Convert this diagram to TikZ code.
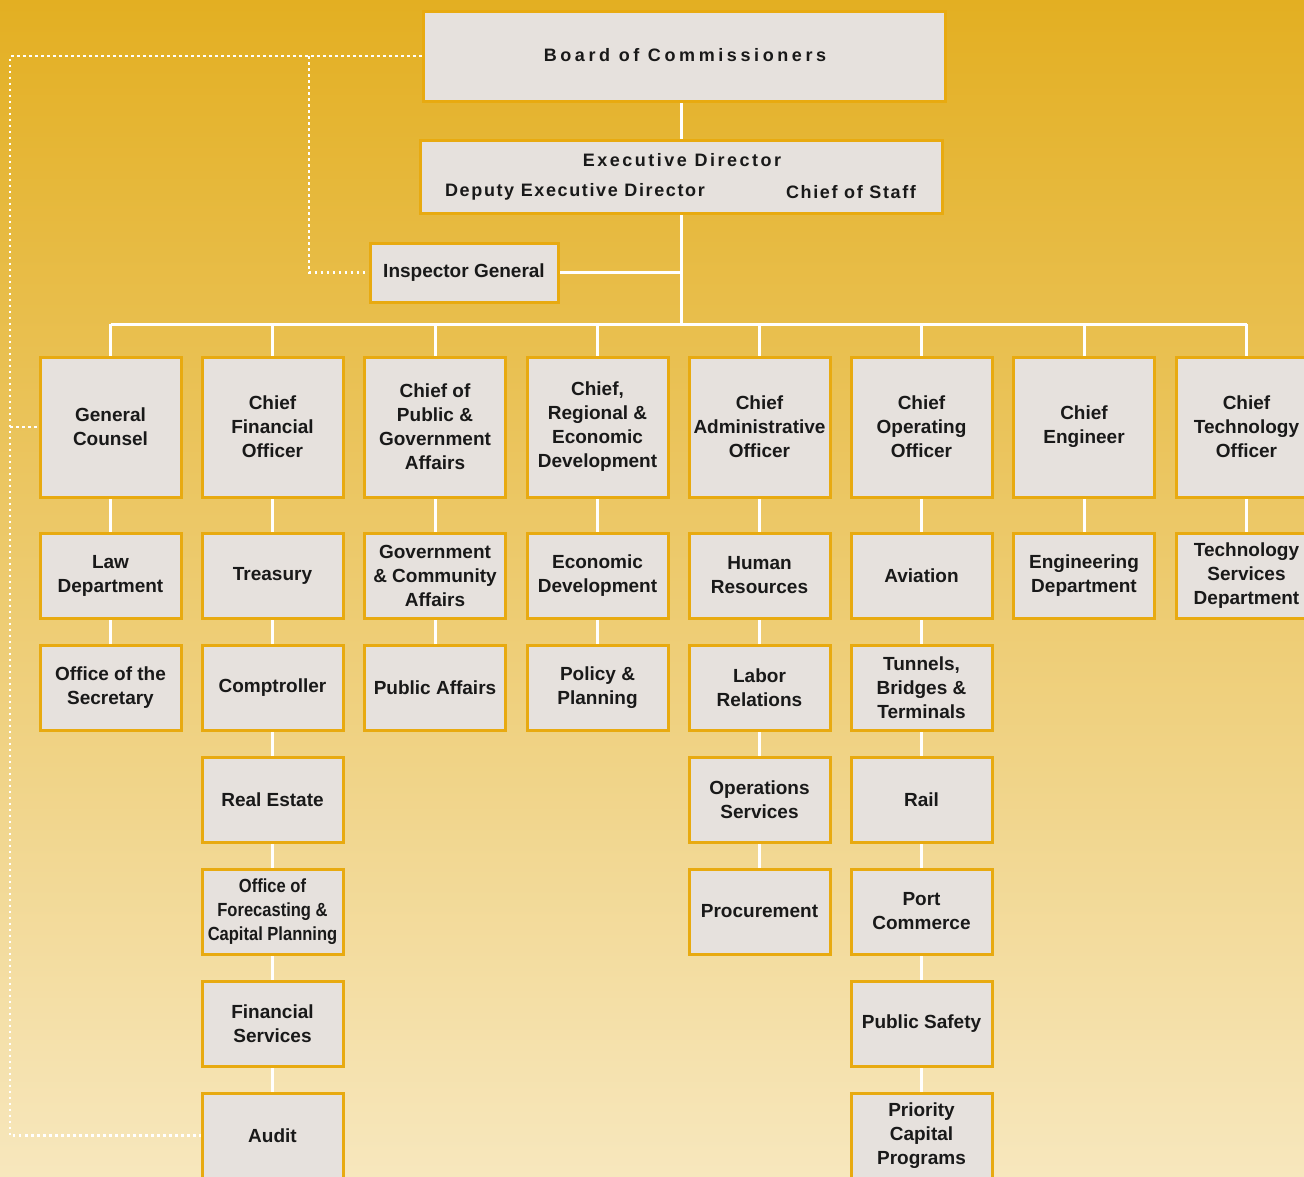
\documentclass[tikz,border=0pt]{standalone}
\usepackage{fontspec}
\setmainfont{Liberation Sans}
\definecolor{boxfill}{HTML}{E6E1DD}
\definecolor{boxline}{HTML}{E8AA10}
\definecolor{bgtop}{HTML}{E3AF22}
\definecolor{bgmid}{HTML}{EAC25A}
\definecolor{bgbot}{HTML}{F7E7BD}
\pgfdeclarelayer{bg}
\pgfdeclarelayer{lines}
\pgfsetlayers{bg,lines,main}
\begin{document}
\begin{tikzpicture}[x=1pt,y=-1pt,
  box/.style={draw=boxline, fill=boxfill, line width=3pt, minimum width=141pt,
    minimum height=85pt, align=center, inner sep=0pt, text=black!90,
    font=\bfseries\fontsize{19}{24}\selectfont},
  chief/.style={box, minimum height=140pt},
  narrow/.style={font=\bfseries\fontsize{19}{24}\selectfont\addfontfeature{FakeStretch=0.87}},
  plain/.style={inner sep=0pt, text=black!90},
  wire/.style={white, line width=3pt},
  dots/.style={white, line width=2.8pt, dash pattern=on 2.5pt off 3.5pt}]
\useasboundingbox (0,0) rectangle (1304,1176);
\begin{pgfonlayer}{bg}
  \shade[top color=bgtop, middle color=bgmid, bottom color=bgbot] (0,0) rectangle (1304,1176);
\end{pgfonlayer}

% top
\node[box, minimum width=522pt, minimum height=90pt] (board) at (684,56) {};
\node[plain, font=\bfseries\fontsize{18}{22}\selectfont\addfontfeature{LetterSpace=20}] (boardt) at (685,55) {Board of Commissioners};
\node[box, minimum width=522pt, minimum height=73pt] (exec) at (681,176.5) {};
\node[plain, font=\bfseries\fontsize{18}{22}\selectfont\addfontfeature{LetterSpace=14}] (exect) at (682,160) {Executive Director};
\node[plain, font=\bfseries\fontsize{18}{22}\selectfont\addfontfeature{LetterSpace=9}] (dept) at (575,192) {Deputy Executive Director};
\node[plain, font=\bfseries\fontsize{18}{22}\selectfont\addfontfeature{LetterSpace=9}] (cost) at (851,192) {Chief of Staff};
\node[box, minimum width=188pt, minimum height=59pt] (ig) at (464,272.5) {Inspector General};

% chiefs
\node[chief] (gc)   at (110.5,427) {General\\Counsel};
\node[chief] (cfo)  at (272.5,427) {Chief\\Financial\\Officer};
\node[chief] (cpg)  at (435,427)   {Chief of\\Public \&\\Government\\Affairs};
\node[chief] (cred) at (597.5,427) {Chief,\\Regional \&\\Economic\\Development};
\node[chief] (cao)  at (759.5,427) {Chief\\Administrative\\Officer};
\node[chief] (coo)  at (921.5,427) {Chief\\Operating\\Officer};
\node[chief] (ce)   at (1084,427)  {Chief\\Engineer};
\node[chief] (cto)  at (1246.5,427){Chief\\Technology\\Officer};

% column 1
\node[box] (law) at (110.5,575.5) {Law\\Department};
\node[box] (sec) at (110.5,687.5) {Office of the\\Secretary};
% column 2
\node[box] (tre)  at (272.5,575.5)  {Treasury};
\node[box] (comp) at (272.5,687.5)  {Comptroller};
\node[box] (re)   at (272.5,799.5)  {Real Estate};
\node[box, narrow] (ofc)  at (272.5,911.5)  {Office of\\Forecasting \&\\Capital Planning};
\node[box] (fs)   at (272.5,1023.5) {Financial\\Services};
\node[box] (aud)  at (272.5,1135.5) {Audit};
% column 3
\node[box] (gca) at (435,575.5) {Government\\\& Community\\Affairs};
\node[box] (pa)  at (435,687.5) {Public Affairs};
% column 4
\node[box] (ed) at (597.5,575.5) {Economic\\Development};
\node[box] (pp) at (597.5,687.5) {Policy \&\\Planning};
% column 5
\node[box] (hr)   at (759.5,575.5) {Human\\Resources};
\node[box] (lr)   at (759.5,687.5) {Labor\\Relations};
\node[box] (os)   at (759.5,799.5) {Operations\\Services};
\node[box] (proc) at (759.5,911.5) {Procurement};
% column 6
\node[box] (av)   at (921.5,575.5)  {Aviation};
\node[box] (tbt)  at (921.5,687.5)  {Tunnels,\\Bridges \&\\Terminals};
\node[box] (rail) at (921.5,799.5)  {Rail};
\node[box] (port) at (921.5,911.5)  {Port\\Commerce};
\node[box] (ps)   at (921.5,1023.5) {Public Safety};
\node[box] (pcp)  at (921.5,1135.5) {Priority\\Capital\\Programs};
% column 7, 8
\node[box] (eng) at (1084,575.5)  {Engineering\\Department};
\node[box] (tsd) at (1246.5,575.5){Technology\\Services\\Department};

\coordinate (bus) at (681,324);
\coordinate (dl) at (10,0);
\coordinate (dm) at (309,0);

\begin{pgfonlayer}{lines}
  \draw[wire] (exec.north |- board.south) -- (exec.north);
  \draw[wire] (exec.south) -- (bus);
  \draw[wire] (ig.east) -- (ig.east -| bus);
  \draw[wire] (gc.north |- bus) -- (cto.north |- bus);
  \foreach \c in {gc,cfo,cpg,cred,cao,coo,ce,cto}
    \draw[wire] (\c.north |- bus) -- (\c.north);
  \foreach \a/\b in {gc/law,law/sec,cfo/tre,tre/comp,comp/re,re/ofc,ofc/fs,fs/aud,
      cpg/gca,gca/pa,cred/ed,ed/pp,cao/hr,hr/lr,lr/os,os/proc,
      coo/av,av/tbt,tbt/rail,rail/port,port/ps,ps/pcp,ce/eng,cto/tsd}
    \draw[wire] (\a.south) -- (\b.north);
  % dotted reporting lines
  \draw[dots] (board.west) -- (board.west -| dl) -- (dl |- aud.west) -- (aud.west);
  \draw[dots] (board.west -| dm) -- (dm |- ig.west) -- (ig.west);
  \draw[dots] (dl |- gc.west) -- (gc.west);
\end{pgfonlayer}
\end{tikzpicture}
\end{document}
